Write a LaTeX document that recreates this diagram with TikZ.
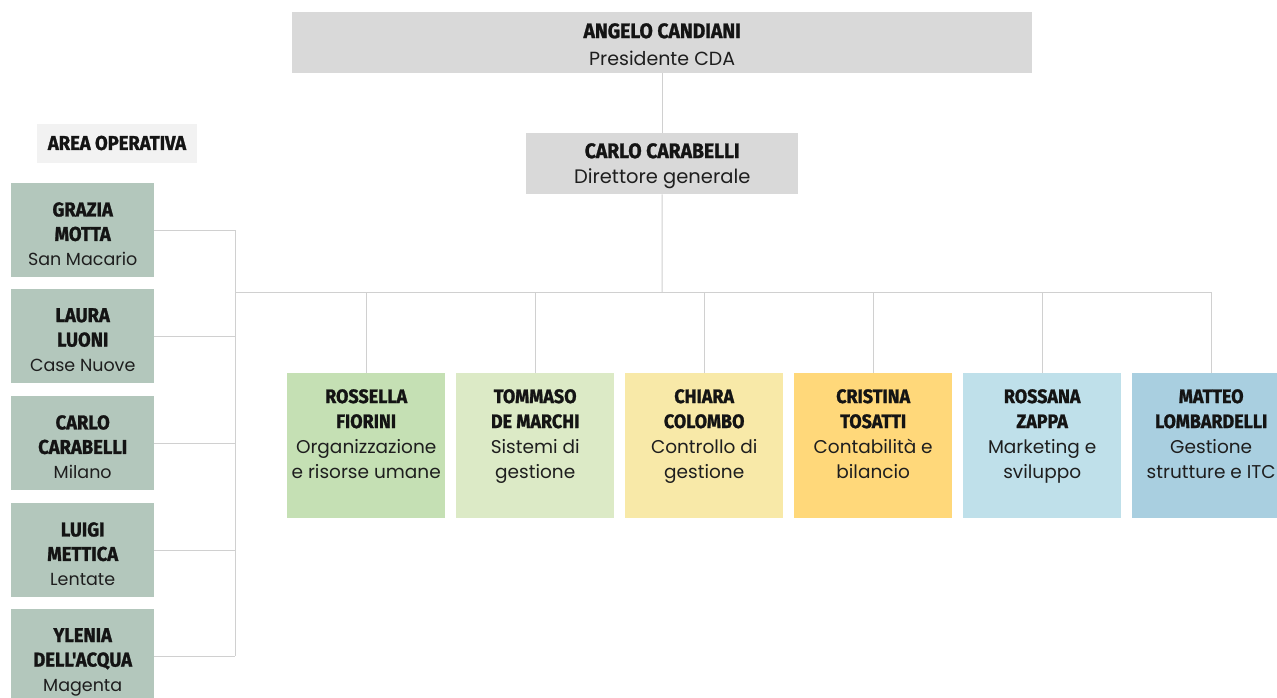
\documentclass[tikz,border=0pt]{standalone}
\usepackage{fontspec}
\setmainfont{Poppins}
\newfontfamily\namefont[FakeStretch=0.92,FakeBold=1.2]{Fira Sans}
\newfontfamily\subfont{Poppins}
\definecolor{topgray}{HTML}{D9D9D9}
\definecolor{sage}{HTML}{B3C7BC}
\definecolor{areabg}{HTML}{F2F2F2}
\definecolor{cA}{HTML}{C5E0B4}
\definecolor{cB}{HTML}{DCEAC6}
\definecolor{cC}{HTML}{F8E9A8}
\definecolor{cD}{HTML}{FFD87A}
\definecolor{cE}{HTML}{BFE0EA}
\definecolor{cF}{HTML}{A9CFE0}
\definecolor{linec}{HTML}{D0D0D0}
\definecolor{ink}{HTML}{141414}
\definecolor{subink}{HTML}{1E1E1E}
\newcommand{\subtxt}[2]{{\subfont\mdseries\fontsize{#1}{25}\selectfont\color{subink}#2}}
\begin{document}
\begin{tikzpicture}[x=1pt,y=-1pt,
  boxn/.style={draw=none,inner sep=0pt,anchor=north west},
  txt/.style={inner sep=0pt,anchor=north,align=center,text=ink},
  conn/.style={draw=linec,line width=1pt}]
\useasboundingbox (0,0) rectangle (1277,697);
\fill[white] (0,0) rectangle (1277,697);

% top boxes
\node[boxn,fill=topgray,minimum width=740pt,minimum height=61pt] (pres) at (292,12) {};
\node[txt,font=\namefont\bfseries\fontsize{21}{27}\selectfont] (pres-t) at ([yshift=-11pt]pres.north)
  {ANGELO CANDIANI\\{\subfont\mdseries\fontsize{19}{27}\selectfont\color{subink}Presidente CDA}};
\node[boxn,fill=topgray,minimum width=272pt,minimum height=61pt] (dg) at (526,133) {};
\node[txt,font=\namefont\bfseries\fontsize{21}{25}\selectfont] (dg-t) at ([yshift=-10pt]dg.north)
  {CARLO CARABELLI\\\subtxt{19.5}{Direttore generale}};

% area operativa
\node[fill=areabg,minimum width=160pt,minimum height=39pt,inner sep=0pt,text=ink,
  font=\namefont\bfseries\fontsize{20}{22}\selectfont] (area) at (117,143) {AREA OPERATIVA};

% left boxes
\foreach \n/\y/\a/\b/\c in {l1/183/GRAZIA/MOTTA/San Macario,
  l2/289/LAURA/LUONI/Case Nuove,
  l3/396/CARLO/CARABELLI/Milano,
  l4/503/LUIGI/METTICA/Lentate,
  l5/609/YLENIA/DELL'ACQUA/Magenta}{
  \node[boxn,fill=sage,minimum width=143pt,minimum height=94pt] (\n) at (11,\y) {};
  \node[txt,font=\namefont\bfseries\fontsize{20}{24.5}\selectfont] (\n-t) at ([yshift=-19pt]\n.north)
    {\a\\\b\\{\subfont\mdseries\fontsize{17.5}{24.5}\selectfont\color{subink}\c}};
}

% bottom boxes
\foreach \n/\x/\col/\a/\b/\c/\d in {bA/287/cA/ROSSELLA/FIORINI/Organizzazione/e risorse umane,
  bB/456/cB/TOMMASO/DE MARCHI/Sistemi di/gestione,
  bC/625/cC/CHIARA/COLOMBO/Controllo di/gestione,
  bD/794/cD/CRISTINA/TOSATTI/Contabilità e/bilancio,
  bE/963/cE/ROSSANA/ZAPPA/Marketing e/sviluppo,
  bF/1132/cF/MATTEO/LOMBARDELLI/Gestione/strutture e ITC}{
  \node[boxn,fill=\col,minimum width=158pt,minimum height=145pt] (\n) at (\x,373) {};
  \node[txt,font=\namefont\bfseries\fontsize{19.5}{25}\selectfont] (\n-t) at ([yshift=-16pt]\n.north)
    {\a\\\b\\\subtxt{18.5}{\c}\\\subtxt{18.5}{\d}};
}

% connectors
\coordinate (bus) at (662,292);
\coordinate (brk) at (235,292);
\draw[conn] (pres.south) -- (dg.north);
\draw[conn] (dg.south) -- (bus);
\draw[conn] (brk) -- (brk -| bF.north);
\foreach \n in {bA,bB,bC,bD,bE,bF}{
  \draw[conn] (brk -| \n.north) -- (\n.north);
}
\foreach \n in {l1,l2,l3,l4,l5}{
  \draw[conn] (\n.east) -- (\n.east -| brk);
}
\draw[conn] (l1.east -| brk) -- (l5.east -| brk);
\end{tikzpicture}
\end{document}
